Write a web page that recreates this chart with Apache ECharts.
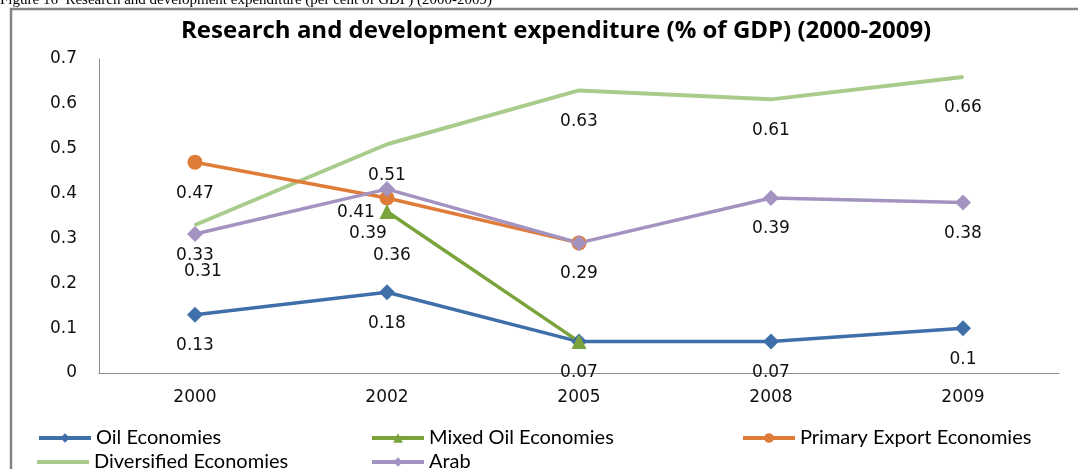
<!DOCTYPE html>
<html>
<head>
<meta charset="utf-8">
<script src="https://cdn.jsdelivr.net/npm/echarts@6/dist/echarts.min.js"></script>
<style>
  html, body { margin: 0; padding: 0; background: #fff; }
  #chart { width: 1078px; height: 469px; }
</style>
</head>
<body>
<div id="chart"></div>
<script>
var years = ['2000', '2002', '2005', '2008', '2009'];
var oilEconomies = [0.13, 0.18, 0.07, 0.07, 0.1];
var mixedOilEconomies = [null, 0.36, 0.07, null, null];
var primaryExportEconomies = [0.47, 0.39, 0.29, null, null];
var diversifiedEconomies = [0.33, 0.51, 0.63, 0.61, 0.66];
var arab = [0.31, 0.41, 0.29, 0.39, 0.38];

var numFont = 'DejaVu Sans';
var textFont = 'Lato';

// a few labels were moved or hidden by hand in the original to avoid overlaps
function withLabelNudges(values, nudges) {
    return values.map(function(v, i) {
        if (nudges && nudges[i] === 'hide') {
            return { value: v, label: { show: false } };
        }
        if (nudges && nudges[i]) {
            return { value: v, label: { offset: nudges[i] } };
        }
        return v;
    });
}

function makeSeries(name, values, color, symbol, size, width, nudges) {
    return {
        name: name,
        type: 'line',
        data: withLabelNudges(values, nudges),
        symbol: symbol,
        symbolSize: size,
        connectNulls: false,
        lineStyle: { color: color, width: width },
        itemStyle: { color: color },
        label: {
            show: true,
            position: 'inside',
            offset: [0, 31],
            fontFamily: numFont,
            fontSize: 17,
            color: '#111'
        },
        emphasis: { disabled: true }
    };
}

function makeLegend(name, left, top, icon) {
    var lg = {
        data: [name],
        left: left,
        top: top,
        itemWidth: 52,
        itemHeight: 12,
        itemGap: 0,
        padding: 0,
        itemTextGap: 3,
        lineStyle: { width: 4 },
        textStyle: { fontFamily: textFont, fontSize: 20, color: '#000' }
    };
    if (icon) {
        lg.icon = icon;
        lg.itemHeight = 4;
    }
    return lg;
}

var chart = echarts.init(document.getElementById('chart'));

var option = {
    animation: false,
    backgroundColor: '#fff',
    title: {
        text: 'Research and development expenditure (% of GDP) (2000-2009)',
        left: 176,
        top: 14,
        textStyle: { fontFamily: 'Open Sans', fontWeight: 'bold', fontSize: 24, color: '#000' }
    },
    graphic: [
        {
            type: 'text',
            left: 0,
            top: -7,
            style: {
                text: 'Figure 16  Research and development expenditure (per cent of GDP) (2000-2009)',
                fontFamily: 'Liberation Serif',
                fontSize: 15,
                fill: '#000'
            }
        },
        {
            type: 'rect',
            shape: { x: 11, y: 9, width: 1100, height: 500 },
            style: { fill: 'none', stroke: '#858585', lineWidth: 2.5 },
            silent: true
        }
    ],
    legend: [
        makeLegend('Oil Economies', 37, 428),
        makeLegend('Mixed Oil Economies', 370, 428),
        makeLegend('Primary Export Economies', 741, 428),
        makeLegend('Diversified Economies', 37, 452, 'rect'),
        makeLegend('Arab', 370, 452)
    ],
    grid: {
        left: 99,
        right: 19,
        top: 59,
        bottom: 96,
        containLabel: false,
        outerBoundsMode: 'none'
    },
    xAxis: {
        type: 'category',
        data: years,
        boundaryGap: true,
        axisLine: { lineStyle: { color: '#8c8c8c', width: 1 } },
        axisTick: { show: false },
        axisLabel: { margin: 16, fontFamily: numFont, fontSize: 17, color: '#111' },
        splitLine: { show: false }
    },
    yAxis: {
        type: 'value',
        min: 0,
        max: 0.7,
        interval: 0.1,
        axisLine: { show: true, lineStyle: { color: '#8c8c8c', width: 1 } },
        axisTick: { show: false },
        axisLabel: { margin: 22, fontFamily: numFont, fontSize: 17, color: '#111' },
        splitLine: { show: false }
    },
    // drawing order follows the original: later series sit on top
    series: [
        makeSeries('Diversified Economies', diversifiedEconomies, '#a9cc8c', 'circle', 2, 4),
        makeSeries('Primary Export Economies', primaryExportEconomies, '#e07c39', 'circle', 15, 3.5, { 1: [-19, 36] }),
        makeSeries('Oil Economies', oilEconomies, '#3f6fa9', 'diamond', 16, 3.5),
        makeSeries('Mixed Oil Economies', mixedOilEconomies, '#7aa33b', 'triangle', 15, 3.5, { 1: [5, 44], 2: 'hide' }),
        makeSeries('Arab', arab, '#a393c1', 'diamond', 16, 3.5, { 0: [8, 38], 1: [-31, 23], 2: 'hide' })
    ]
};

chart.setOption(option);
</script>
</body>
</html>
